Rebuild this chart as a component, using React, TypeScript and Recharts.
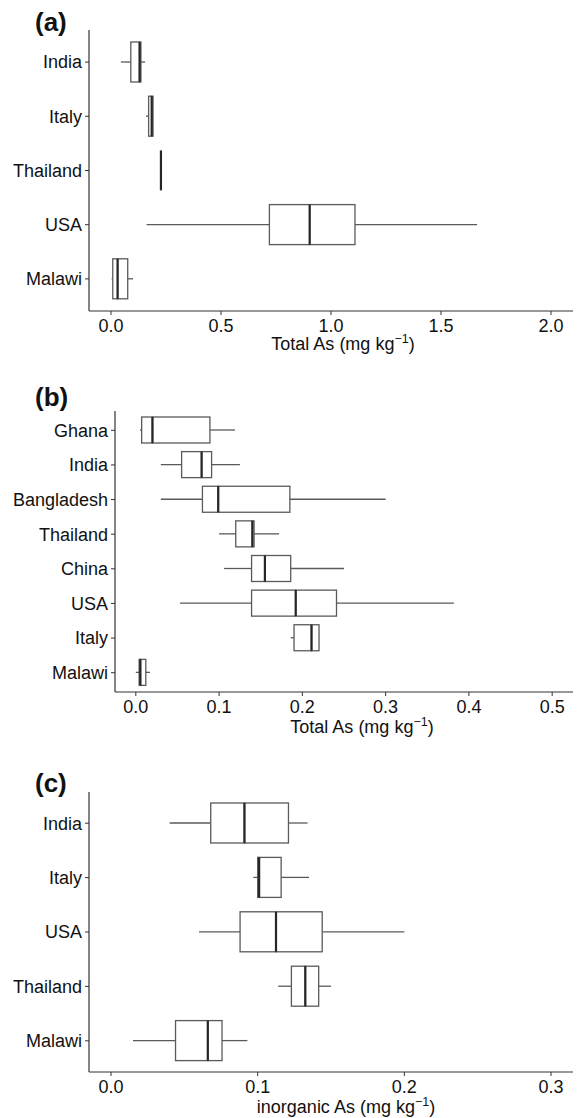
import React from 'react';
import { ComposedChart, Bar, XAxis, YAxis } from 'recharts';

// ---------- Panel (a): Total As ----------
const catsA = ['India', 'Italy', 'Thailand', 'USA', 'Malawi'];
const loA = [0.045, 0.159, 0.227, 0.162, 0.003];
const q1A = [0.09, 0.171, 0.227, 0.72, 0.008];
const medA = [0.13, 0.185, 0.227, 0.903, 0.03];
const q3A = [0.136, 0.191, 0.227, 1.109, 0.076];
const hiA = [0.155, 0.191, 0.227, 1.664, 0.1];
const ticksA = [0, 0.5, 1.0, 1.5, 2.0];

// ---------- Panel (b): Total As ----------
const catsB = ['Ghana', 'India', 'Bangladesh', 'Thailand', 'China', 'USA', 'Italy', 'Malawi'];
const loB = [0.005, 0.03, 0.03, 0.1, 0.106, 0.053, 0.186, 0.0];
const q1B = [0.007, 0.055, 0.08, 0.12, 0.139, 0.139, 0.19, 0.004];
const medB = [0.02, 0.079, 0.099, 0.14, 0.155, 0.192, 0.211, 0.0055];
const q3B = [0.089, 0.091, 0.185, 0.142, 0.186, 0.241, 0.22, 0.012];
const hiB = [0.119, 0.125, 0.3, 0.172, 0.25, 0.382, 0.22, 0.017];
const ticksB = [0, 0.1, 0.2, 0.3, 0.4, 0.5];

// ---------- Panel (c): inorganic As ----------
const catsC = ['India', 'Italy', 'USA', 'Thailand', 'Malawi'];
const loC = [0.04, 0.097, 0.06, 0.114, 0.015];
const q1C = [0.068, 0.1, 0.088, 0.123, 0.044];
const medC = [0.091, 0.101, 0.1125, 0.1325, 0.066];
const q3C = [0.121, 0.116, 0.144, 0.1416, 0.0757];
const hiC = [0.134, 0.135, 0.2, 0.15, 0.093];
const ticksC = [0, 0.1, 0.2, 0.3];

const FONT = '"Liberation Sans", Arial, sans-serif';
const BOX = '#5a5a5a';
const MED = '#262626';
const AXIS = '#333333';
const TXT = '#111111';

function buildRows(cats: string[], lo: number[], q1: number[], med: number[], q3: number[], hi: number[]) {
  return cats.map((c, i) => ({
    cat: c,
    base: lo[i],
    wLo: Math.max(0, q1[i] - lo[i]),
    boxL: Math.max(0, med[i] - q1[i]),
    boxR: Math.max(0, q3[i] - med[i]),
    wHi: Math.max(0, hi[i] - q3[i]),
  }));
}

const NoShape = () => <g />;

const WhiskerShape = (p: any) => {
  const { x, y, width, height } = p;
  if (!(width > 0)) return <g />;
  const cy = y + height / 2;
  return <line x1={x} x2={x + width} y1={cy} y2={cy} stroke={BOX} strokeWidth={1.3} />;
};

const BoxLeftShape = (p: any) => {
  const { x, y, width, height } = p;
  if (!(width > 0)) return <g />;
  return <rect x={x} y={y} width={width} height={height} fill="#ffffff" stroke={BOX} strokeWidth={1.3} />;
};

const BoxRightShape = (p: any) => {
  const { x, y, width, height } = p;
  return (
    <g>
      {width > 0 && <rect x={x} y={y} width={width} height={height} fill="#ffffff" stroke={BOX} strokeWidth={1.3} />}
      <line x1={x} x2={x} y1={y} y2={y + height} stroke={MED} strokeWidth={2.2} />
    </g>
  );
};

type PanelProps = {
  rows: any[];
  ticks: number[];
  domain: [number, number];
  top: number;
  height: number;
  marginTop: number;
  marginBottom: number;
  yWidth: number;
  barSize: number;
  pad: number;
};

const Panel = ({ rows, ticks, domain, top, height, marginTop, marginBottom, yWidth, barSize, pad }: PanelProps) => (
  <div style={{ position: 'absolute', left: 0, top, width: 579, height }}>
    <ComposedChart
      width={579}
      height={height}
      data={rows}
      layout="vertical"
      margin={{ top: marginTop, right: 6, bottom: marginBottom, left: 0 }}
      barSize={barSize}
    >
      <XAxis
        type="number"
        domain={domain}
        ticks={ticks}
        allowDataOverflow
        height={30}
        tickSize={4}
        tickMargin={4}
        tickFormatter={(v: number) => v.toFixed(1)}
        stroke={AXIS}
        axisLine={{ stroke: AXIS, strokeWidth: 1.2 }}
        tickLine={{ stroke: AXIS }}
        tick={{ fontSize: 18, fill: TXT, fontFamily: FONT }}
      />
      <YAxis
        type="category"
        dataKey="cat"
        width={yWidth}
        interval={0}
        padding={{ top: pad, bottom: pad }}
        tickSize={4}
        tickMargin={3}
        stroke={AXIS}
        axisLine={{ stroke: AXIS, strokeWidth: 1.2 }}
        tickLine={{ stroke: AXIS }}
        tick={{ fontSize: 18, fill: TXT, fontFamily: FONT }}
      />
      <Bar dataKey="base" stackId="s" fill="none" shape={NoShape} isAnimationActive={false} />
      <Bar dataKey="wLo" stackId="s" fill="none" shape={WhiskerShape} isAnimationActive={false} />
      <Bar dataKey="boxL" stackId="s" fill="none" shape={BoxLeftShape} isAnimationActive={false} />
      <Bar dataKey="boxR" stackId="s" fill="none" shape={BoxRightShape} isAnimationActive={false} />
      <Bar dataKey="wHi" stackId="s" fill="none" shape={WhiskerShape} isAnimationActive={false} />
    </ComposedChart>
  </div>
);

const AxisTitle = ({ x, y, label }: { x: number; y: number; label: string }) => (
  <text x={x} y={y} textAnchor="middle" fontSize={18} fill={TXT} fontFamily={FONT}>
    {label} (mg kg
    <tspan dy={-7.5} fontSize={12.5}>−1</tspan>
    <tspan dy={7.5}>)</tspan>
  </text>
);

export default function App() {
  const rowsA = buildRows(catsA, loA, q1A, medA, q3A, hiA);
  const rowsB = buildRows(catsB, loB, q1B, medB, q3B, hiB);
  const rowsC = buildRows(catsC, loC, q1C, medC, q3C, hiC);
  return (
    <div style={{ position: 'absolute', left: 0, top: 0, width: 579, height: 1118, background: '#fff', overflow: 'hidden' }}>
      <Panel rows={rowsA} ticks={ticksA} domain={[-0.1, 2.1]} top={0} height={360} marginTop={30} marginBottom={19} yWidth={89} barSize={40} pad={5} />
      <Panel rows={rowsB} ticks={ticksB} domain={[-0.025, 0.525]} top={380} height={360} marginTop={31} marginBottom={18} yWidth={115} barSize={26} pad={2} />
      <Panel rows={rowsC} ticks={ticksC} domain={[-0.015, 0.315]} top={760} height={358} marginTop={32} marginBottom={16} yWidth={89} barSize={40} pad={4} />
      <svg width={579} height={1118} style={{ position: 'absolute', left: 0, top: 0, pointerEvents: 'none' }}>
        <text x={35} y={31} fontSize={26} fontWeight="bold" fill="#111" fontFamily={FONT}>(a)</text>
        <text x={35} y={406} fontSize={26} fontWeight="bold" fill="#111" fontFamily={FONT}>(b)</text>
        <text x={35} y={792} fontSize={26} fontWeight="bold" fill="#111" fontFamily={FONT}>(c)</text>
        <AxisTitle x={343} y={350} label="Total As" />
        <AxisTitle x={362} y={733} label="Total As" />
        <AxisTitle x={346} y={1113} label="inorganic As" />
      </svg>
    </div>
  );
}
